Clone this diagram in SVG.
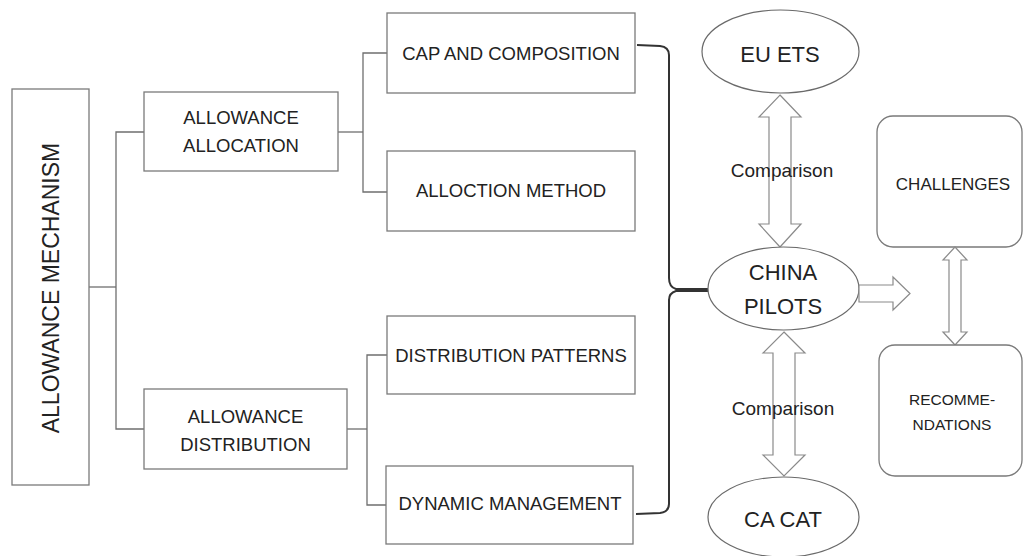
<svg xmlns="http://www.w3.org/2000/svg" width="1023" height="556" viewBox="0 0 1023 556">
  <style>
    .box { fill: #fff; stroke: #7a7a7a; stroke-width: 1.3; }
    .ell { fill: #fff; stroke: #6a6a6a; stroke-width: 1.2; }
    .blk { fill: #fff; stroke: #8a8a8a; stroke-width: 1.2; }
    .con { fill: none; stroke: #6f6f6f; stroke-width: 1.3; }
    .brace { fill: none; stroke: #333; stroke-width: 2; }
    text { font-family: "Liberation Sans", Arial, sans-serif; fill: #222; text-anchor: middle; }
    .t { font-size: 18.5px; }
    .big { font-size: 22px; }
    .cmp { font-size: 19px; }
  </style>
  <rect width="1023" height="556" fill="#fff"/>

  <g id="connectors">
    <polyline class="con" points="89,287 116,287"/>
    <polyline class="con" points="144,132 116,132 116,429 144,429"/>
    <polyline class="con" points="338,132 363,132"/>
    <polyline class="con" points="387,53 363,53 363,192 387,192"/>
    <polyline class="con" points="347,429 367,429"/>
    <polyline class="con" points="387,355 367,355 367,505 386,505"/>
    <path class="brace" d="M637,45 L660,46 Q669,47 669,55 L669,278 Q669,287 676,289 L708,289 M708,291 L676,291 Q669,293 669,300 L669,504 Q669,512 660,513 L636,514"/>
  </g>

  <g id="n-mechanism">
    <rect class="box" x="12" y="89" width="77" height="396"/>
    <text transform="translate(59,288) rotate(-90)" style="font-size:23px">ALLOWANCE MECHANISM</text>
  </g>
  <g id="n-allocation">
    <rect class="box" x="144" y="92" width="194" height="79"/>
    <text class="t" x="241" y="124">ALLOWANCE</text>
    <text class="t" x="241" y="152">ALLOCATION</text>
  </g>
  <g id="n-distribution">
    <rect class="box" x="144" y="389" width="203" height="80"/>
    <text class="t" x="245.5" y="423">ALLOWANCE</text>
    <text class="t" x="245.5" y="451">DISTRIBUTION</text>
  </g>
  <g id="n-cap">
    <rect class="box" x="387" y="13" width="248" height="80"/>
    <text class="t" x="511" y="60">CAP AND COMPOSITION</text>
  </g>
  <g id="n-method">
    <rect class="box" x="387" y="151" width="248" height="80"/>
    <text class="t" x="511" y="197">ALLOCTION METHOD</text>
  </g>
  <g id="n-patterns">
    <rect class="box" x="387" y="316" width="248" height="78"/>
    <text class="t" x="511" y="362">DISTRIBUTION PATTERNS</text>
  </g>
  <g id="n-dynamic">
    <rect class="box" x="386" y="466" width="247" height="78"/>
    <text class="t" x="510" y="510">DYNAMIC MANAGEMENT</text>
  </g>

  <g id="n-euets">
    <ellipse class="ell" cx="780.5" cy="51.5" rx="78.5" ry="41.5"/>
    <text class="big" x="780" y="62">EU ETS</text>
  </g>
  <g id="arrow-eu">
    <polygon class="blk" points="780,95 801,117 791,117 791,224 801,224 780,247 759,224 769,224 769,117 759,117"/>
    <text class="cmp" x="782" y="177">Comparison</text>
  </g>
  <g id="n-china">
    <ellipse class="ell" cx="783.5" cy="288.5" rx="75.5" ry="41.5"/>
    <text class="big" x="783" y="280">CHINA</text>
    <text class="big" x="783" y="314">PILOTS</text>
  </g>
  <g id="arrow-ca">
    <polygon class="blk" points="784,332 805,353 795,353 795,455 805,455 784,476 763,455 773,455 773,353 763,353"/>
    <text class="cmp" x="783" y="415">Comparison</text>
  </g>
  <g id="n-cacat">
    <ellipse class="ell" cx="783.5" cy="517" rx="75.5" ry="40"/>
    <text class="big" x="783" y="527">CA CAT</text>
  </g>
  <g id="arrow-right">
    <polygon class="blk" points="859,285 893,285 893,277 910,293.5 893,310 893,302 859,302"/>
  </g>
  <g id="n-challenges">
    <rect class="box" x="877" y="116" width="145" height="131" rx="16"/>
    <text x="953" y="190" style="font-size:17px">CHALLENGES</text>
  </g>
  <g id="arrow-cr">
    <polygon class="blk" points="955,247 967,260 961,260 961,332 967,332 955,345 943,332 949,332 949,260 943,260"/>
  </g>
  <g id="n-recommendations">
    <rect class="box" x="879" y="345" width="143" height="131" rx="16"/>
    <text x="952" y="405" style="font-size:15.5px">RECOMME-</text>
    <text x="952" y="430" style="font-size:15.5px">NDATIONS</text>
  </g>
</svg>
